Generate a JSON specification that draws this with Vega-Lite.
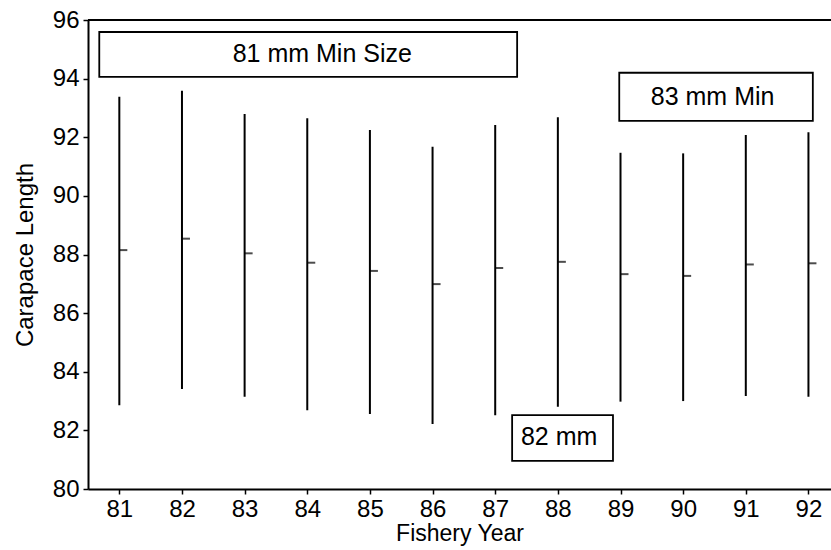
{
  "$schema": "https://vega.github.io/schema/vega-lite/v6.json",
  "autosize": "none",
  "width": 743,
  "height": 469,
  "padding": {"left": 88, "top": 20, "right": 0, "bottom": 61},
  "background": "white",
  "config": {
    "view": {"stroke": null},
    "font": "Liberation Sans",
    "axis": {
      "grid": false,
      "domainColor": "black",
      "domainWidth": 2,
      "tickColor": "black",
      "tickWidth": 1.5,
      "tickSize": 5,
      "labelColor": "black",
      "titleColor": "black",
      "labelFont": "Liberation Sans",
      "titleFont": "Liberation Sans",
      "labelFontSize": 24,
      "titleFontSize": 24,
      "titleFontWeight": "normal"
    }
  },
  "datasets": {
    "years": [
      {"year": 81, "low": 82.86, "high": 93.38, "mean": 88.15},
      {"year": 82, "low": 83.41, "high": 93.59, "mean": 88.54},
      {"year": 83, "low": 83.15, "high": 92.79, "mean": 88.04},
      {"year": 84, "low": 82.69, "high": 92.65, "mean": 87.72},
      {"year": 85, "low": 82.56, "high": 92.25, "mean": 87.44},
      {"year": 86, "low": 82.22, "high": 91.68, "mean": 86.99},
      {"year": 87, "low": 82.52, "high": 92.42, "mean": 87.54},
      {"year": 88, "low": 82.81, "high": 92.68, "mean": 87.75},
      {"year": 89, "low": 82.98, "high": 91.47, "mean": 87.33},
      {"year": 90, "low": 83.0, "high": 91.45, "mean": 87.27},
      {"year": 91, "low": 83.17, "high": 92.08, "mean": 87.66},
      {"year": 92, "low": 83.15, "high": 92.17, "mean": 87.7}
    ],
    "notes": [
      {"label": "81 mm Min Size", "x1": 80.68, "x2": 87.35, "y1": 94.06, "y2": 95.59, "tx": 84.24, "ty": 94.84},
      {"label": "83 mm Min", "x1": 88.98, "x2": 92.07, "y1": 92.56, "y2": 94.2, "tx": 90.47, "ty": 93.38},
      {"label": "82 mm", "x1": 87.27, "x2": 88.88, "y1": 80.96, "y2": 82.52, "tx": 88.02, "ty": 81.76}
    ]
  },
  "layer": [
    {
      "data": {"name": "years"},
      "mark": {"type": "rule", "color": "black", "strokeWidth": 2},
      "encoding": {
        "x": {
          "field": "year", "type": "quantitative",
          "scale": {"domain": [80.5, 92.36], "nice": false, "zero": false},
          "axis": {"values": [81, 82, 83, 84, 85, 86, 87, 88, 89, 90, 91, 92], "format": "d", "title": "Fishery Year", "titleFontSize": 23, "labelPadding": 3, "titlePadding": 1}
        },
        "y": {
          "field": "low", "type": "quantitative",
          "scale": {"domain": [80, 96], "nice": false, "zero": false},
          "axis": {"values": [80, 82, 84, 86, 88, 90, 92, 94, 96], "title": "Carapace Length", "labelPadding": 4, "titlePadding": 15}
        },
        "y2": {"field": "high"}
      }
    },
    {
      "data": {"name": "years"},
      "mark": {"type": "tick", "orient": "horizontal", "color": "black", "size": 8, "thickness": 2, "xOffset": 4},
      "encoding": {
        "x": {"field": "year", "type": "quantitative"},
        "y": {"field": "mean", "type": "quantitative"}
      }
    },
    {
      "data": {"values": [{"top": 96}]},
      "mark": {"type": "rule", "color": "black", "strokeWidth": 2},
      "encoding": {"y": {"field": "top", "type": "quantitative"}}
    },
    {
      "data": {"name": "notes"},
      "mark": {"type": "rect", "fill": "white", "stroke": "black", "strokeWidth": 1.8},
      "encoding": {
        "x": {"field": "x1", "type": "quantitative"},
        "x2": {"field": "x2"},
        "y": {"field": "y1", "type": "quantitative"},
        "y2": {"field": "y2"}
      }
    },
    {
      "data": {"name": "notes"},
      "mark": {"type": "text", "fontSize": 25, "font": "Liberation Sans", "color": "black", "align": "center", "baseline": "middle"},
      "encoding": {
        "x": {"field": "tx", "type": "quantitative"},
        "y": {"field": "ty", "type": "quantitative"},
        "text": {"field": "label"}
      }
    }
  ]
}
